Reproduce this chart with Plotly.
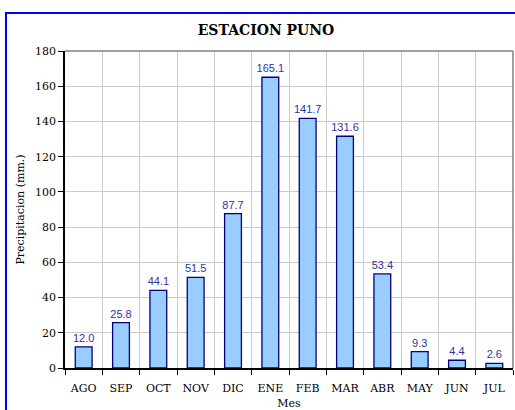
import plotly.graph_objects as go

meses = ["AGO", "SEP", "OCT", "NOV", "DIC", "ENE", "FEB", "MAR", "ABR", "MAY", "JUN", "JUL"]
precip = [12.0, 25.8, 44.1, 51.5, 87.7, 165.1, 141.7, 131.6, 53.4, 9.3, 4.4, 2.6]
y_ticks = [0, 20, 40, 60, 80, 100, 120, 140, 160, 180]

serif = "Palatino Linotype, DejaVu Serif, Liberation Serif, serif"

fig = go.Figure(go.Bar(
    x=meses, y=precip,
    width=0.45,
    marker=dict(color="#99CCFF", line=dict(color="#000080", width=1.3)),
    texttemplate="%{y:.1f}", textposition="outside", constraintext="none",
    textfont=dict(family="Liberation Sans, Arial", size=11, color="#333399"),
    cliponaxis=False,
))

L, R, T, B = 65, 2, 51, 42
W, H = 515, 410
pw, ph = W - L - R, H - T - B

fig.update_layout(
    width=W, height=H,
    margin=dict(l=L, r=R, t=T, b=B),
    paper_bgcolor="white", plot_bgcolor="white",
    showlegend=False,
    title=dict(text="<b>ESTACION PUNO</b>", x=(266) / W, xanchor="center",
               y=1 - 30 / H, yanchor="middle",
               font=dict(family=serif, size=14, color="black")),
    xaxis=dict(
        tickson="boundaries", ticks="outside", ticklen=5, tickcolor="black",
        ticklabelstandoff=9,
        showgrid=True, gridcolor="#CCCCCC", gridwidth=1,
        showline=True, linecolor="black", linewidth=1.5,
        tickfont=dict(family=serif, size=11, color="black"),
        title=dict(text="Mes", font=dict(family=serif, size=11, color="black"), standoff=6),
    ),
    yaxis=dict(
        range=[0, 180], tickvals=y_ticks, ticks="outside", ticklen=5, tickcolor="black",
        showgrid=True, gridcolor="#CCCCCC", gridwidth=1,
        showline=True, linecolor="black", linewidth=1.5,
        zeroline=False,
        tickfont=dict(family=serif, size=11, color="black"),
        title=dict(text="Precipitacion (mm.)", font=dict(family=serif, size=11, color="black"), standoff=8),
    ),
)

# plot-area border (top/right in gray)
fig.add_shape(type="line", xref="paper", yref="paper", x0=0, x1=1, y0=1, y1=1,
              line=dict(color="#808080", width=1.5))
fig.add_shape(type="line", xref="paper", yref="paper", x0=1, x1=1, y0=0, y1=1,
              line=dict(color="#808080", width=1.5))

# outer blue frame
fx0 = (6 - L) / pw
fy1 = 1 + (T - 13) / ph
fig.add_shape(type="rect", xref="paper", yref="paper", x0=fx0, x1=1.2, y0=-0.5, y1=fy1,
              line=dict(color="#0000FF", width=2), layer="above")

fig.write_html("out.html", config={"displayModeBar": False},
               post_script="document.body.style.margin='0';document.body.style.overflow='hidden';")
